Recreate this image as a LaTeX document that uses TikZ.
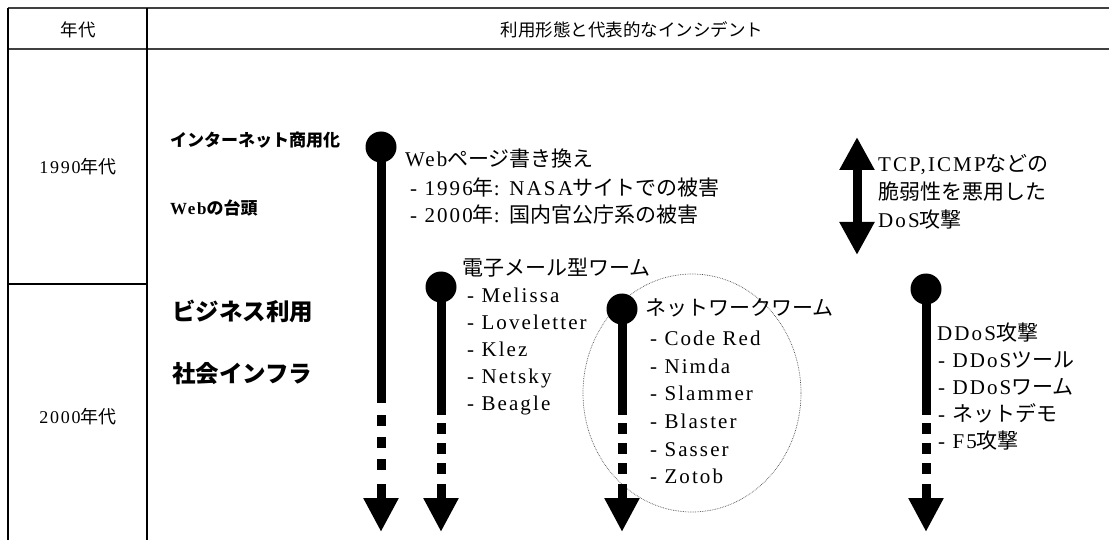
\documentclass[tikz,border=0pt]{standalone}
\usepackage{fontspec}
\setmainfont{Liberation Serif}
\newfontfamily\jp{Noto Sans CJK JP}
\newfontfamily\lat[LetterSpace=10]{Liberation Serif}
\usetikzlibrary{arrows.meta,shapes.geometric}
\newcommand\J[1]{{\jp #1}}
\begin{document}
\begin{tikzpicture}[x=1pt,y=-1pt,
  txt/.style={inner sep=0pt, anchor=base west, font=\fontsize{21}{25}\selectfont\lat},
  hdr/.style={inner sep=0pt, font=\fontsize{17.5}{20}\selectfont\jp},
  yr/.style={inner sep=0pt, font=\fontsize{18}{22}\selectfont\lat},
  era/.style={inner sep=0pt, anchor=base west, font=\fontsize{17}{20}\selectfont\jp\bfseries},
  bigera/.style={inner sep=0pt, anchor=base west, font=\fontsize{23.5}{28}\selectfont\jp\bfseries},
  dot/.style={circle, fill=black, minimum size=31pt, inner sep=0pt},
  tl/.style={line width=9pt, -{Triangle[width=33pt,length=34pt]}},
  frame/.style={line width=1.3pt, black},
  ring/.style={draw=black!70, densely dotted, line width=0.7pt, ellipse, minimum width=218pt, minimum height=238pt, inner sep=0pt}
]
\useasboundingbox (0,0) rectangle (1109,540);
\fill[white] (0,0) rectangle (1109,540);
% table frame
\draw[line width=1.2pt, black!75] (8,8) -- (1109,8);
\draw[line width=2pt, black!75] (8,49) -- (1109,49);
\draw[frame] (8,8) -- (8,540);
\draw[frame] (147,8) -- (147,540);
\draw[frame] (8,284) -- (147,284);
% headers
\node[hdr] (h1) at (78,30) {年代};
\node[hdr] (h2) at (632,30) {利用形態と代表的なインシデント};
\node[yr] (y1) at (78,167) {1990\J{年代}};
\node[yr] (y2) at (78,417) {2000\J{年代}};
% eras
\node[era] (e1) at (170,147) {インターネット商用化};
\node[era] (e2) at (170,215) {{\lat Web}の台頭};
\node[bigera] (e3) at (172,320) {ビジネス利用};
\node[bigera] (e4) at (172,382) {社会インフラ};
% ring
\node[ring] (rg) at (692,393) {};
% timelines
\node[dot] (c1) at (381,147) {};
\node[dot] (c2) at (441,287) {};
\node[dot] (c3) at (622,309) {};
\node[dot] (c4) at (926,289) {};
\coordinate (t1) at (381,532);
\coordinate (t2) at (441,532);
\coordinate (t3) at (622,532);
\coordinate (t4) at (926,532);
\draw[tl, dash pattern=on 256pt off 12pt on 11pt off 11pt on 11pt off 11pt on 11pt off 14pt on 80pt] (c1.center) -- (t1);
\draw[tl, dash pattern=on 128pt off 8pt on 11pt off 9pt on 11pt off 9pt on 11pt off 10pt on 80pt] (c2.center) -- (t2);
\draw[tl, dash pattern=on 106pt off 8pt on 11pt off 9pt on 11pt off 9pt on 11pt off 10pt on 80pt] (c3.center) -- (t3);
\draw[tl, dash pattern=on 126pt off 8pt on 11pt off 9pt on 11pt off 9pt on 11pt off 10pt on 80pt] (c4.center) -- (t4);
% double arrow
\coordinate (da) at (857,137);
\coordinate (db) at (857,255);
\draw[line width=9pt, {Triangle[width=33pt,length=33pt]}-{Triangle[width=33pt,length=33pt]}] (da) -- (db);
% Web block
\node[txt] (w0) at (405,167) {Web\J{ページ書き換え}};
\node[txt] (w1) at (410,196) {- 1996\J{年}: NASA\J{サイトでの被害}};
\node[txt] (w2) at (410,223) {- 2000\J{年}: \J{国内官公庁系の被害}};
% email worms
\node[txt] (m0) at (462,276) {\J{電子メール型ワーム}};
\node[txt] (m1) at (467,302) {- Melissa};
\node[txt] (m2) at (467,329) {- Loveletter};
\node[txt] (m3) at (467,356) {- Klez};
\node[txt] (m4) at (467,383) {- Netsky};
\node[txt] (m5) at (467,410) {- Beagle};
% network worms
\node[txt] (n0) at (645,316) {\J{ネットワークワーム}};
\node[txt] (n1) at (650,345) {- Code Red};
\node[txt] (n2) at (650,373) {- Nimda};
\node[txt] (n3) at (650,400) {- Slammer};
\node[txt] (n4) at (650,428) {- Blaster};
\node[txt] (n5) at (650,456) {- Sasser};
\node[txt] (n6) at (650,483) {- Zotob};
% DoS
\node[txt] (d0) at (878,172) {TCP,ICMP\J{などの}};
\node[txt] (d1) at (878,200) {\J{脆弱性を悪用した}};
\node[txt] (d2) at (878,228) {DoS\J{攻撃}};
% DDoS
\node[txt] (p0) at (937,340) {DDoS\J{攻撃}};
\node[txt] (p1) at (938,367) {- DDoS\J{ツール}};
\node[txt] (p2) at (938,394) {- DDoS\J{ワーム}};
\node[txt] (p3) at (938,421) {- \J{ネットデモ}};
\node[txt] (p4) at (938,448) {- F5\J{攻撃}};
\end{tikzpicture}
\end{document}
